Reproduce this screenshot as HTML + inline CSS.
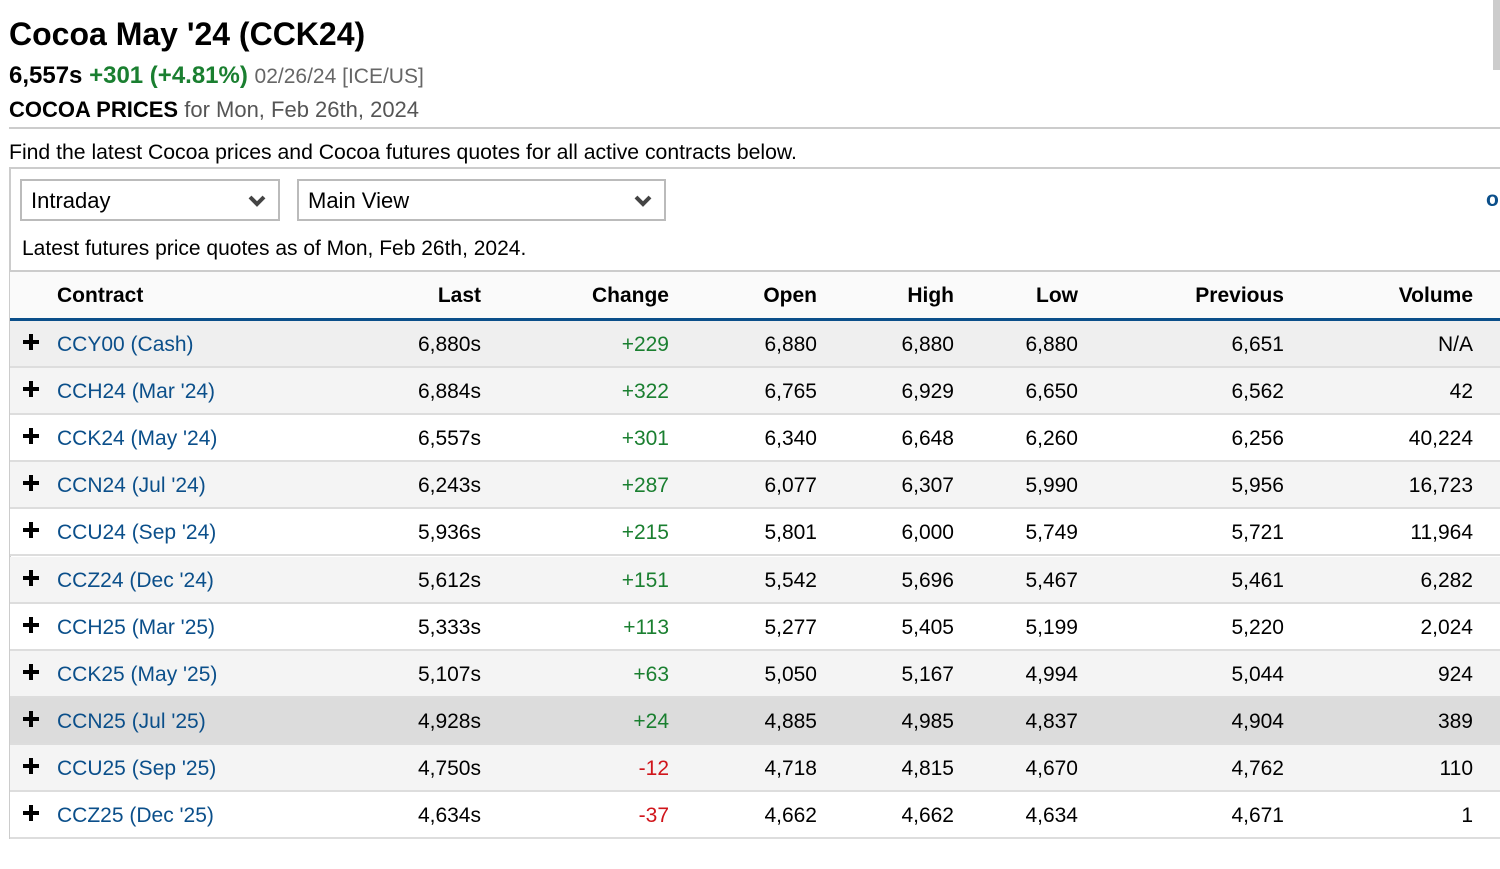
<!DOCTYPE html>
<html><head><meta charset="utf-8"><style>
*{margin:0;padding:0;box-sizing:border-box}
body{width:1500px;height:869px;background:#fff;font-family:"Liberation Sans",Arial,sans-serif;color:#000;position:relative;overflow:hidden}
.a{position:absolute;white-space:nowrap}
h1{position:absolute;left:9px;top:16px;font-size:32px;font-weight:bold;letter-spacing:0px}
.g{color:#1a7f30}.r{color:#d0151b}.gr{color:#666}.b{color:#0b4f8a}
.sel{position:absolute;top:179px;height:42px;border:2px solid #bbb;font-size:22px;padding:7px 0 0 9px}
.sel svg{position:absolute;right:12px;top:13px}
.row{position:absolute;left:10px;width:1490px;height:47px;border-bottom:2px solid #ddd;font-size:21px}
.row div{position:absolute;top:12px;white-space:nowrap}
.R{text-align:right}
.pl{left:13px!important;top:13px!important;width:16px;height:16px}
.pl:before{content:"";position:absolute;left:6px;top:0;width:4px;height:16px;background:#000}
.pl:after{content:"";position:absolute;left:0;top:6px;width:16px;height:4px;background:#000}
</style></head><body>
<div style="position:absolute;left:1493px;top:0;width:7px;height:70px;background:#ccc"></div>
<h1>Cocoa May '24 (CCK24)</h1>
<div class="a" style="left:9px;top:62px;font-size:24px;font-weight:bold">6,557s <span class="g">+301 (+4.81%)</span> <span class="gr" style="font-weight:normal;font-size:21px">02/26/24 [ICE/US]</span></div>
<div class="a" style="left:9px;top:97px;font-size:22px"><b>COCOA PRICES</b> <span style="color:#555">for Mon, Feb 26th, 2024</span></div>
<div class="a" style="left:9px;top:127px;width:1491px;height:2px;background:#ccc"></div>
<div class="a" style="left:9px;top:141px;font-size:21.2px">Find the latest Cocoa prices and Cocoa futures quotes for all active contracts below.</div>
<div class="a" style="left:9px;top:167px;width:1491px;height:2px;background:#ccc"></div>
<div class="a" style="left:9px;top:167px;width:2px;height:672px;background:#ccc"></div>
<div class="sel" style="left:20px;width:260px">Intraday<svg width="18" height="14" viewBox="0 0 18 14"><path d="M2 3 L9 10 L16 3" stroke="#444" stroke-width="4" fill="none"/></svg></div>
<div class="sel" style="left:297px;width:369px">Main View<svg width="18" height="14" viewBox="0 0 18 14"><path d="M2 3 L9 10 L16 3" stroke="#444" stroke-width="4" fill="none"/></svg></div>
<div class="a b" style="left:1486px;top:188px;font-size:21px;font-weight:bold">o</div>
<div class="a" style="left:22px;top:237px;font-size:21px">Latest futures price quotes as of Mon, Feb 26th, 2024.</div>
<div class="a" style="left:10px;top:270px;width:1490px;height:2px;background:#ccc"></div>
<div class="row" style="top:272px;height:49px;background:#fafafa;border-bottom:3px solid #0b4f8a;font-weight:bold">
<div style="left:47px">Contract</div><div class="R" style="right:1019px">Last</div><div class="R" style="right:831px">Change</div><div class="R" style="right:683px">Open</div><div class="R" style="right:546px">High</div><div class="R" style="right:422px">Low</div><div class="R" style="right:216px">Previous</div><div class="R" style="right:27px">Volume</div></div>
<div id="rows"></div>
<script>
var d=[["CCY00 (Cash)","6,880s","+229","6,880","6,880","6,880","6,651","N/A","#efefef"],
["CCH24 (Mar '24)","6,884s","+322","6,765","6,929","6,650","6,562","42","#f4f4f4"],
["CCK24 (May '24)","6,557s","+301","6,340","6,648","6,260","6,256","40,224","#fff"],
["CCN24 (Jul '24)","6,243s","+287","6,077","6,307","5,990","5,956","16,723","#f4f4f4"],
["CCU24 (Sep '24)","5,936s","+215","5,801","6,000","5,749","5,721","11,964","#fff"],
["CCZ24 (Dec '24)","5,612s","+151","5,542","5,696","5,467","5,461","6,282","#f4f4f4"],
["CCH25 (Mar '25)","5,333s","+113","5,277","5,405","5,199","5,220","2,024","#fff"],
["CCK25 (May '25)","5,107s","+63","5,050","5,167","4,994","5,044","924","#f4f4f4"],
["CCN25 (Jul '25)","4,928s","+24","4,885","4,985","4,837","4,904","389","#dcdcdc"],
["CCU25 (Sep '25)","4,750s","-12","4,718","4,815","4,670","4,762","110","#f4f4f4"],
["CCZ25 (Dec '25)","4,634s","-37","4,662","4,662","4,634","4,671","1","#fff"]];
var h="";d.forEach(function(r,i){var t=321+i*47.1;
h+='<div class="row" style="top:'+t+'px;background:'+r[8]+'"><div class="pl"></div><div class="b" style="left:47px">'+r[0]+'</div><div class="R" style="right:1019px">'+r[1]+'</div><div class="R '+(r[2][0]=="+"?"g":"r")+'" style="right:831px">'+r[2]+'</div><div class="R" style="right:683px">'+r[3]+'</div><div class="R" style="right:546px">'+r[4]+'</div><div class="R" style="right:422px">'+r[5]+'</div><div class="R" style="right:216px">'+r[6]+'</div><div class="R" style="right:27px">'+r[7]+'</div></div>';});
document.getElementById("rows").innerHTML=h;
</script>
</body></html>
